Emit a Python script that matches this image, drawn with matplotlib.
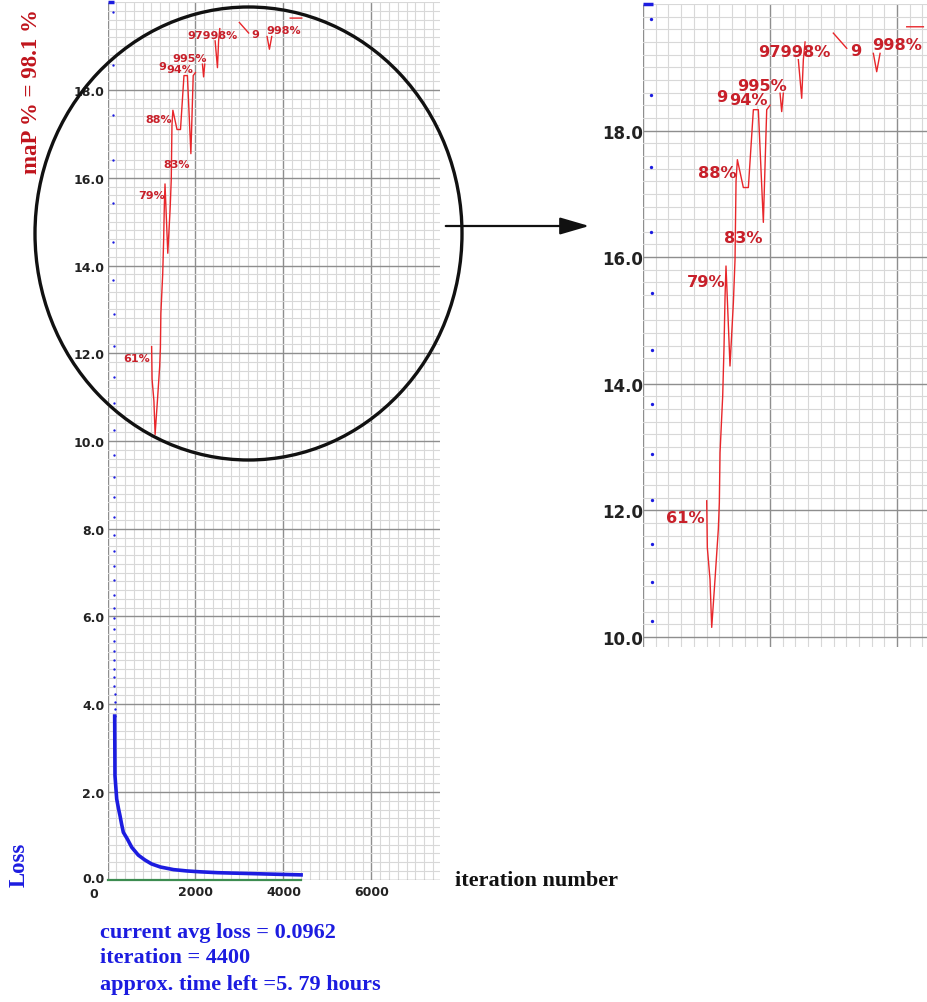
import matplotlib
matplotlib.use("Agg")
import matplotlib.pyplot as plt
import numpy as np
from matplotlib.patches import Ellipse, FancyArrowPatch
from matplotlib.ticker import MultipleLocator, FormatStrFormatter
from matplotlib.transforms import ScaledTranslation

plt.rcParams['font.weight'] = 'bold'

W, H = 927, 1003
nan = np.nan

# avg loss: clipped at the top of the chart at the very start
top_iter = [0, 150]
top_loss = [20.0, 20.0]

# one dot per iteration while the loss is still dropping fast
dot_iter = list(range(130, 164))
dot_loss = [19.77, 18.56, 17.43, 16.40, 15.43, 14.53, 13.68, 12.89, 12.17, 11.47, 10.86, 10.25,
            9.68, 9.17, 8.72, 8.27, 7.86, 7.49, 7.16, 6.83, 6.50, 6.20, 5.96, 5.71, 5.44, 5.22,
            5.01, 4.81, 4.61, 4.42, 4.23, 4.06, 3.89, 3.73]

# dense part of the loss curve
curve_iter = [163, 170, 209, 250, 284, 320, 360, 450, 550, 700, 850, 1000, 1200, 1500,
              1800, 2100, 2500, 2860, 3250, 3610, 4000, 4400]
curve_loss = [3.73, 2.37, 1.84, 1.62, 1.46, 1.27, 1.08, 0.93, 0.74, 0.56, 0.45, 0.36, 0.29, 0.23,
              0.20, 0.18, 0.16, 0.15, 0.14, 0.13, 0.12, 0.11]

# green line along the bottom
green_iter = [0, 4400]
green_val = [0.0, 0.0]

# mAP line (drawn on the same 0..20 scale, 100 % = 20), gaps where it is hidden
map_iter = [1003, 1013, 1055, 1082, 1134, 1186, 1202, 1213, 1255, 1276, 1292, 1307, 1370, 1423,
            1449, 1465, 1486, 1580, 1659, 1738, 1816, 1895, 1948, 2000,
            nan, 2158, 2184, 2210, nan, 2446, 2499, 2525, 2552, nan, 2997, 3208,
            nan, 3627, 3680, 3733, nan, 4153, 4415]
map_val = [12.15, 11.41, 10.91, 10.15, 10.91, 11.70, 12.12, 12.91, 13.81, 14.59, 15.38, 15.86, 14.28, 15.28,
           15.96, 17.20, 17.54, 17.10, 17.10, 18.33, 18.33, 16.55, 18.33, 18.40,
           nan, 18.59, 18.30, 18.59, nan, 19.12, 18.51, 19.12, 19.40, nan, 19.54, 19.30,
           nan, 19.22, 18.93, 19.22, nan, 19.64, 19.64]

# the (overlapping) mAP labels
label_text = ["61%", "79%", "83%", "88%", "9", "94%", "995%", "97998%", "9", "998%"]
label_iter = [661, 992, 1575, 1173, 1244, 1654, 1877, 2380, 3355, 4000]
label_val = [11.89, 15.61, 16.31, 17.33, 18.54, 18.49, 18.72, 19.25, 19.27, 19.36]

blue = '#1c1ce0'
red = '#e8262a'
red_txt = '#c8202a'


def px_rect(l, t, r, b):
    return [l / W, 1 - b / H, (r - l) / W, (b - t) / H]


fig = plt.figure(figsize=(W / 100, H / 100), dpi=100)
ax = fig.add_axes(px_rect(107.5, 3.3, 440, 880.7))
ins = fig.add_axes(px_rect(643, 5, 927, 648))

for a, fs, ms, tfs in ((ax, 8, 1.7, 9), (ins, 11.6, 2.4, 12)):
    a.xaxis.set_minor_locator(MultipleLocator(200))
    a.yaxis.set_minor_locator(MultipleLocator(0.2))
    a.grid(which='major', color='#8e8e8e', lw=1.0)
    a.grid(which='minor', color='#d8d8d8', lw=0.8)
    a.set_axisbelow(True)
    a.tick_params(which='both', length=0, labelsize=tfs, labelcolor='#222222', pad=2)
    for s in a.spines.values():
        s.set_visible(False)
    a.yaxis.set_major_formatter(FormatStrFormatter('%.1f'))

    a.plot(top_iter, top_loss, color=blue, lw=2.5, solid_capstyle='butt', clip_on=False)
    a.plot(dot_iter, dot_loss, ls='none', marker='o', ms=ms, color=blue, mew=0)
    a.plot(curve_iter, curve_loss, color=blue, lw=2.6)
    a.plot(map_iter, map_val, color=red, lw=1.0)
    for t, xi, yi in zip(label_text, label_iter, label_val):
        a.text(xi, yi, t, fontsize=fs, color=red_txt, ha='center', va='center',
               family='DejaVu Sans', clip_on=True)

ax.plot(green_iter, green_val, color='#3c8c50', lw=1.6, clip_on=False)

ax.set_xlim(0, 7557)
ax.set_ylim(0, 20)
ax.set_xticks([0, 2000, 4000, 6000])
ax.set_yticks(np.arange(0, 19, 2))
ax.tick_params(axis='x', pad=3.5)
# "0" sits left of the axis and "0.0" a bit above the bottom line, as in the original
lbl0 = ax.get_xticklabels()[0]
lbl0.set_transform(lbl0.get_transform() + ScaledTranslation(-0.14, -0.02, fig.dpi_scale_trans))
ylbl0 = ax.get_yticklabels()[0]
ylbl0.set_transform(ylbl0.get_transform() + ScaledTranslation(0, 0.03, fig.dpi_scale_trans))

ins.set_xlim(0, 4472)
ins.set_ylim(9.84, 20)
ins.set_xticks([0, 2000, 4000])
ins.set_yticks(np.arange(10, 19, 2))
ins.tick_params(axis='x', labelbottom=False)
ins.tick_params(axis='y', pad=0)

# magnifier circle and arrow
fig.add_artist(Ellipse((248.5 / W, 1 - 234.5 / H), 427 / W, 453 / H, transform=fig.transFigure,
                       fill=False, ec='#111111', lw=2.4))
fig.add_artist(FancyArrowPatch((443 / W, 1 - 227 / H), (592 / W, 1 - 227 / H),
                               transform=fig.transFigure, color='#111111', lw=1.6,
                               arrowstyle='-|>,head_length=1.2,head_width=0.35', mutation_scale=15))

serif = 'Liberation Serif'
fig.text(32 / W, 1 - 92 / H, 'maP % = 98.1 %', rotation=90, ha='center', va='center',
         fontsize=16.5, family=serif, color='#c0141c')
fig.text(19 / W, 1 - 865 / H, 'Loss', rotation=90, ha='center', va='center',
         fontsize=16.5, family=serif, color=blue)
fig.text(455 / W, 1 - 881 / H, 'iteration number', ha='left', va='center',
         fontsize=16, family=serif, color='#111111')
fig.text(100 / W, 1 - 933 / H, 'current avg loss = 0.0962', ha='left', va='center',
         fontsize=16, family=serif, color=blue)
fig.text(100 / W, 1 - 958 / H, 'iteration = 4400', ha='left', va='center',
         fontsize=16, family=serif, color=blue)
fig.text(100 / W, 1 - 985 / H, 'approx. time left =5. 79 hours', ha='left', va='center',
         fontsize=16, family=serif, color=blue)

fig.savefig('out.png', dpi=100)
